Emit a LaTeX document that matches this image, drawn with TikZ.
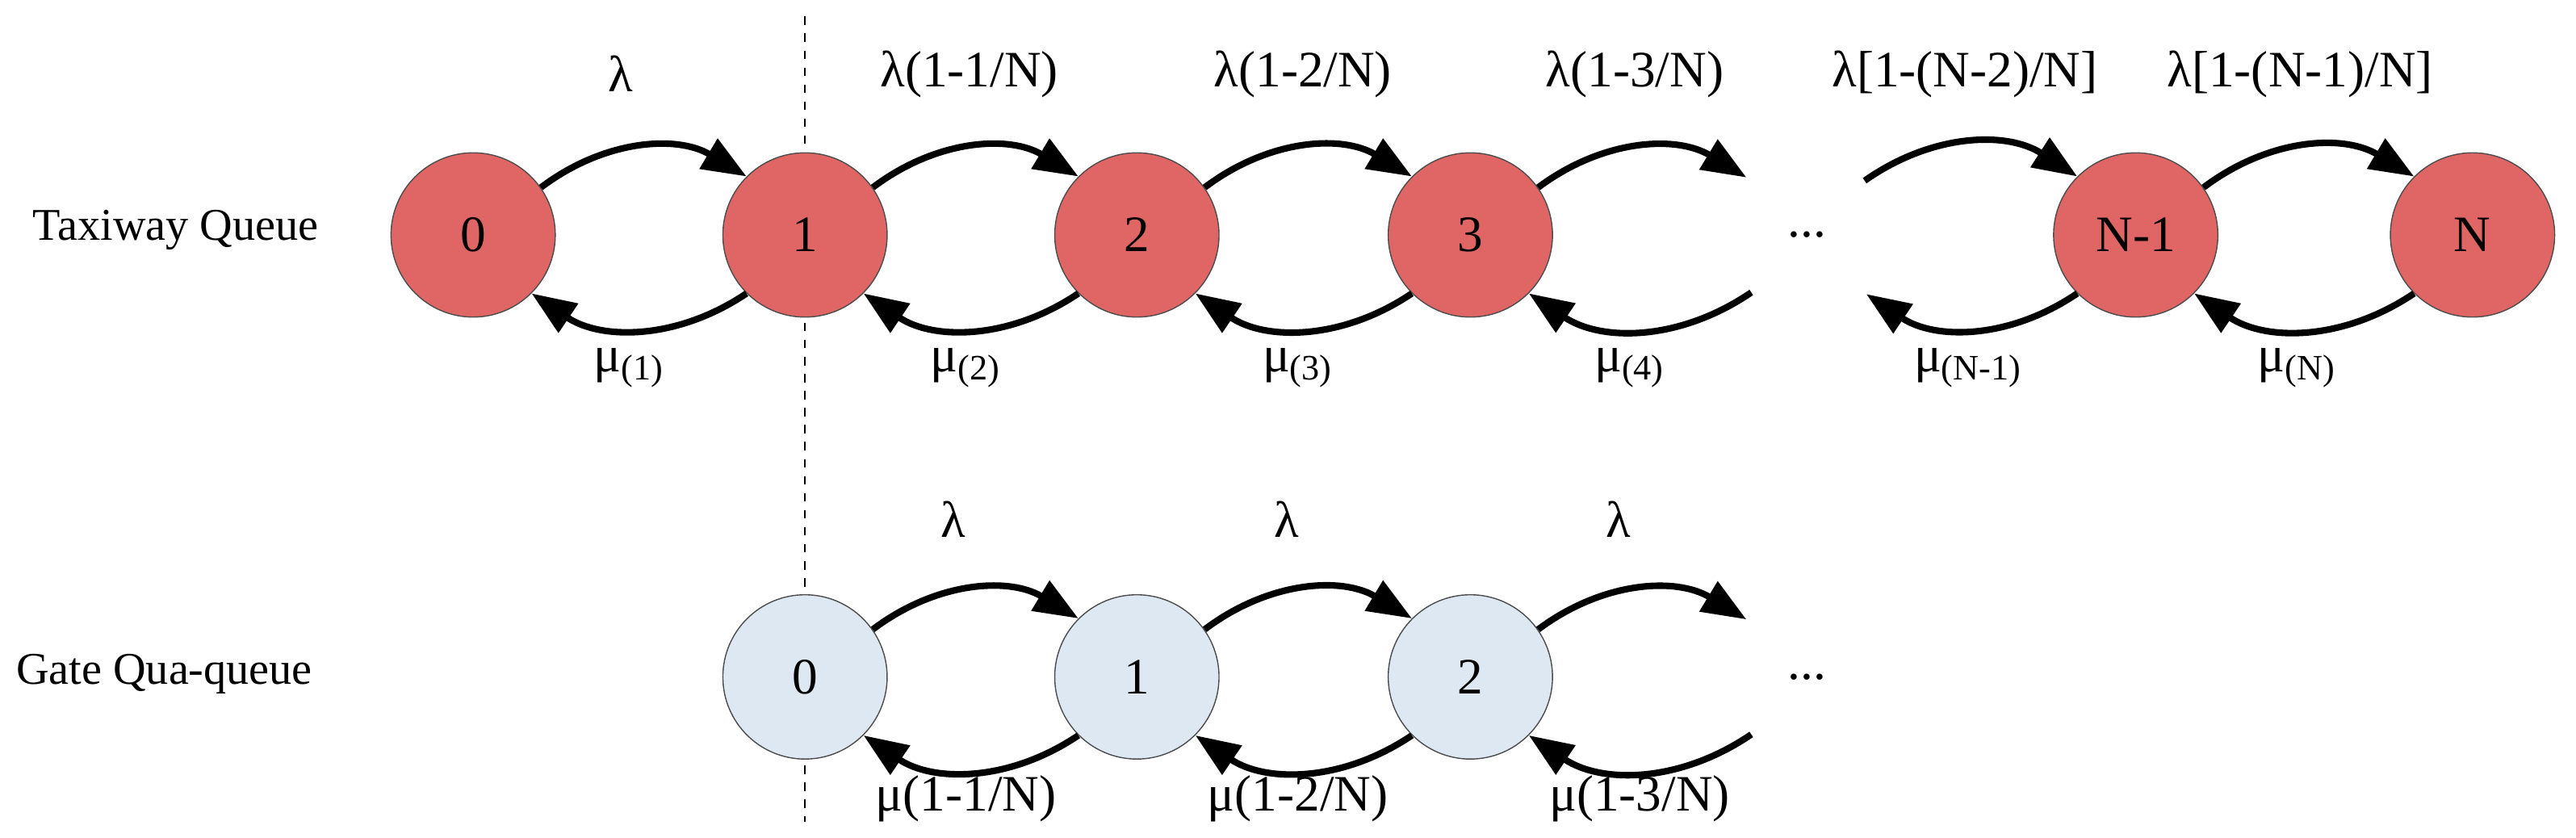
\documentclass[tikz,border=0pt]{standalone}
\usepackage{fontspec}
\setmainfont{Liberation Serif}
\usetikzlibrary{arrows.meta}
\definecolor{red1}{HTML}{E06666}
\definecolor{blue1}{HTML}{DEE8F3}
\begin{document}
\begin{tikzpicture}[x=0.02035cm,y=-0.02035cm,
 st/.style={circle,draw=black!70,line width=0.4pt,minimum size=100*0.02035cm,inner sep=0pt,font=\fontsize{18}{20}\selectfont},
 tq/.style={st,fill=red1}, gq/.style={st,fill=blue1},
 ar/.style={line width=2.3pt,-{Triangle[length=0.55cm,width=0.42cm]}},
 lb/.style={font=\fontsize{18}{20}\selectfont},
 side/.style={font=\fontsize{16}{18}\selectfont}]
\useasboundingbox (0,0) rectangle (1568,510);
\draw[dashed,line width=0.6pt] (490,10) -- (490,500);
\node[side] (L1) at (107,140) {Taxiway Queue};
\node[side] (L2) at (100,410) {Gate Qua-queue};
\node[tq] (t0) at (288,143) {0};
\node[tq] (t1) at (490,143) {1};
\node[tq] (t2) at (692,143) {2};
\node[tq] (t3) at (895,143) {3};
\node[tq] (tn1) at (1300,143) {N-1};
\node[tq] (tn) at (1505,143) {N};
\node[lb] (dt) at (1100,143) {...};
\coordinate (ta) at (1063,108);
\coordinate (tb) at (1066,178);
\coordinate (tc) at (1135,110);
\coordinate (td) at (1136,179);
\node[gq] (g0) at (490,412) {0};
\node[gq] (g1) at (692,412) {1};
\node[gq] (g2) at (895,412) {2};
\node[lb] (dg) at (1100,412) {...};
\coordinate (ga) at (1063,377);
\coordinate (gb) at (1066,447);
\foreach \a/\b in {t0/t1,t1/t2,t2/t3,tn1/tn,g0/g1,g1/g2}{
 \draw[ar] (\a.35) to[bend left=34] (\b.135);
 \draw[ar] (\b.225) to[bend left=34] (\a.-45);
}
\draw[ar] (t3.35) to[bend left=34] (ta);
\draw[ar] (tb) to[bend left=34] (t3.-45);
\draw[ar] (tc) to[bend left=34] (tn1.135);
\draw[ar] (tn1.225) to[bend left=34] (td);
\draw[ar] (g2.35) to[bend left=34] (ga);
\draw[ar] (gb) to[bend left=34] (g2.-45);
\node[lb] at (378,45) {λ};
\node[lb] at (590,45) {λ(1-1/N)};
\node[lb] at (793,45) {λ(1-2/N)};
\node[lb] at (995,45) {λ(1-3/N)};
\node[lb] at (1196,45) {λ[1-(N-2)/N]};
\node[lb] at (1400,45) {λ[1-(N-1)/N]};
\node[lb] at (383,224) {μ\textsubscript{(1)}};
\node[lb] at (588,224) {μ\textsubscript{(2)}};
\node[lb] at (790,224) {μ\textsubscript{(3)}};
\node[lb] at (992,224) {μ\textsubscript{(4)}};
\node[lb] at (1198,224) {μ\textsubscript{(N-1)}};
\node[lb] at (1398,224) {μ\textsubscript{(N)}};
\node[lb] at (580,316) {λ};
\node[lb] at (783,316) {λ};
\node[lb] at (985,316) {λ};
\node[lb] at (588,486) {μ(1-1/N)};
\node[lb] at (790,486) {μ(1-2/N)};
\node[lb] at (998,486) {μ(1-3/N)};
\end{tikzpicture}
\end{document}
